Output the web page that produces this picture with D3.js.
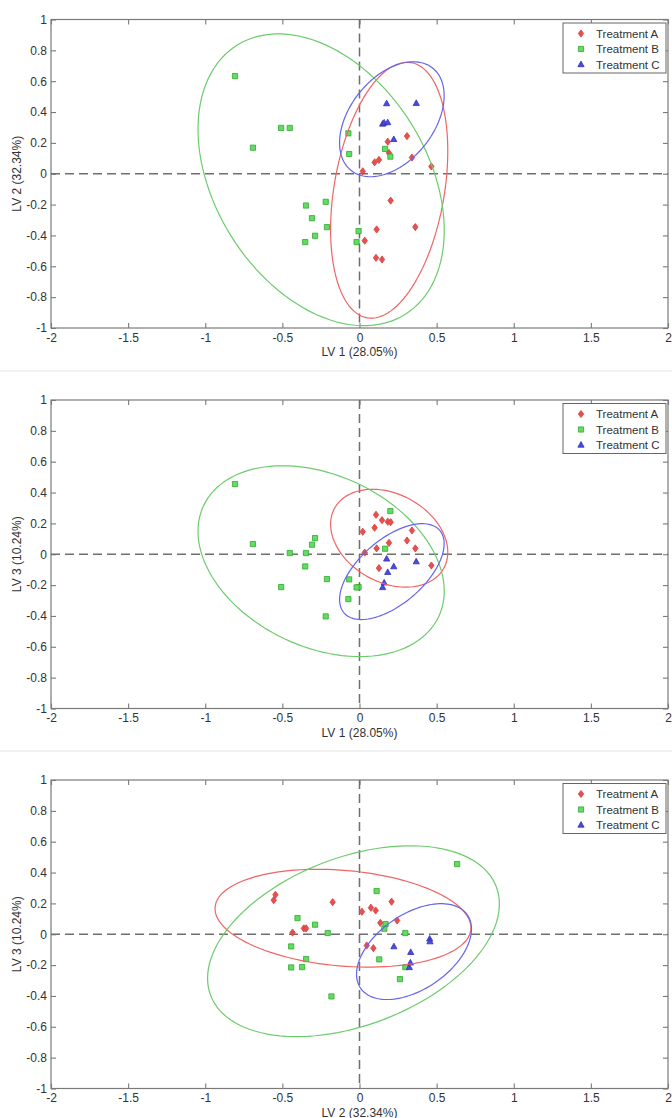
<!DOCTYPE html>
<html>
<head>
<meta charset="utf-8">
<script src="https://cdn.jsdelivr.net/npm/d3@7"></script>
<style>
  body { margin: 0; background: #fff; }
  svg { display: block; font-family: Arial, "Liberation Sans", sans-serif; }
</style>
</head>
<body>
<svg id="chart" width="672" height="1118"></svg>
<script>
// Latent variable scores, one entry per sample
const treatments = ["Treatment A", "Treatment B", "Treatment C"];

const aLV1 = [0.183, 0.308, 0.191, 0.098, 0.126, 0.340, 0.466, 0.021, 0.202, 0.111, 0.362, 0.034, 0.107, 0.146];
const aLV2 = [0.208, 0.244, 0.135, 0.074, 0.090, 0.105, 0.047, 0.016, -0.174, -0.361, -0.346, -0.434, -0.545, -0.556];
const aLV3 = [0.211, 0.089, 0.074, 0.172, -0.090, 0.154, -0.073, 0.146, 0.208, 0.038, 0.038, 0.011, 0.256, 0.221];

const bLV1 = [-0.807, -0.691, -0.508, -0.452, -0.347, -0.352, -0.308, -0.288, -0.219, -0.211, -0.072, -0.067, -0.006, -0.019, 0.166, 0.200];
const bLV2 = [0.633, 0.169, 0.297, 0.297, -0.206, -0.443, -0.288, -0.402, -0.182, -0.346, 0.262, 0.128, -0.372, -0.443, 0.161, 0.111];
const bLV3 = [0.455, 0.066, -0.213, 0.008, 0.008, -0.079, 0.062, 0.105, -0.403, -0.161, -0.291, -0.163, -0.213, -0.215, 0.036, 0.280];

const cLV1 = [0.176, 0.368, 0.150, 0.160, 0.183, 0.222];
const cLV2 = [0.455, 0.457, 0.323, 0.330, 0.332, 0.223];
const cLV3 = [-0.030, -0.048, -0.215, -0.185, -0.117, -0.080];

const axisTitles = ["LV 1 (28.05%)", "LV 2 (32.34%)", "LV 3 (10.24%)"];
const xTicks = [-2, -1.5, -1, -0.5, 0, 0.5, 1, 1.5, 2];
const yTicks = [-1, -0.8, -0.6, -0.4, -0.2, 0, 0.2, 0.4, 0.6, 0.8, 1];

// which score goes on which axis, per panel
const panelPairs = [[0, 1], [0, 2], [1, 2]];

const groups = [
    { name: treatments[0], lv: [aLV1, aLV2, aLV3], fill: "#e85050", stroke: "#d83c3c", line: "#f06464" },
    { name: treatments[1], lv: [bLV1, bLV2, bLV3], fill: "#62dc62", stroke: "#30a830", line: "#6ccc6c" },
    { name: treatments[2], lv: [cLV1, cLV2, cLV3], fill: "#4c4cdc", stroke: "#3030c0", line: "#6464ee" }
];

// marker shapes, matlab-ish
const diamond = {
    draw(ctx) {
        ctx.moveTo(0, -3.6); ctx.lineTo(2.7, 0); ctx.lineTo(0, 3.6); ctx.lineTo(-2.7, 0); ctx.closePath();
    }
};
const square = {
    draw(ctx) { ctx.rect(-2.6, -2.6, 5.2, 5.2); }
};
const triangle = {
    draw(ctx) {
        ctx.moveTo(0, -3.4); ctx.lineTo(3.1, 2.2); ctx.lineTo(-3.1, 2.2); ctx.closePath();
    }
};
const shapes = [diamond, square, triangle];

// 95% Hotelling T2 confidence ellipse of a group
function confEllipse(xs, ys) {
    const n = xs.length;
    const mx = d3.mean(xs), my = d3.mean(ys);
    let sxx = 0, syy = 0, sxy = 0;
    for (let i = 0; i < n; i++) {
        const dx = xs[i] - mx, dy = ys[i] - my;
        sxx += dx * dx; syy += dy * dy; sxy += dx * dy;
    }
    sxx /= n - 1; syy /= n - 1; sxy /= n - 1;
    const fq = (n - 2) / 2 * (Math.pow(0.05, -2 / (n - 2)) - 1);
    const k = Math.sqrt(2 * (n - 1) / (n - 2) * fq);
    const tr = sxx + syy, det = sxx * syy - sxy * sxy;
    const disc = Math.sqrt(Math.max(tr * tr / 4 - det, 0));
    const l1 = tr / 2 + disc, l2 = Math.max(tr / 2 - disc, 0);
    const th = 0.5 * Math.atan2(2 * sxy, sxx - syy);
    return d3.range(120).map(i => {
        const t = i / 120 * 2 * Math.PI;
        const u = k * Math.sqrt(l1) * Math.cos(t);
        const v = k * Math.sqrt(l2) * Math.sin(t);
        return [mx + u * Math.cos(th) - v * Math.sin(th), my + u * Math.sin(th) + v * Math.cos(th)];
    });
}

const svg = d3.select("#chart");
const left = 51, right = 668, plotH = 308.5;
const panelTops = [19.5, 400, 780];

// faint page seams between the stacked figures
[371, 751].forEach(yy => {
    svg.append("line").attr("x1", 0).attr("x2", 672).attr("y1", yy).attr("y2", yy)
        .attr("stroke", "#ececec").attr("stroke-width", 1.5);
});

const x = d3.scaleLinear().domain([-2, 2]).range([left, right]);

panelPairs.forEach(([xi, yi], p) => {
    const top = panelTops[p], bottom = top + plotH;
    const y = d3.scaleLinear().domain([-1, 1]).range([bottom, top]);
    const g = svg.append("g");

    // box + inward ticks on all four sides
    const styleAxis = sel => {
        sel.select(".domain").remove();
        sel.selectAll(".tick line").attr("stroke", "#7a7a7a").attr("stroke-width", 1.1);
        sel.selectAll("text").attr("fill", "#333").attr("font-size", 12)
            .attr("font-family", "Arial, 'Liberation Sans', sans-serif");
    };
    g.append("g").attr("transform", `translate(0,${bottom})`)
        .call(d3.axisBottom(x).tickValues(xTicks).tickSize(-5).tickPadding(5).tickFormat(String))
        .call(styleAxis);
    g.append("g").attr("transform", `translate(0,${top})`)
        .call(d3.axisTop(x).tickValues(xTicks).tickSize(-5).tickFormat(""))
        .call(styleAxis);
    g.append("g").attr("transform", `translate(${left},0)`)
        .call(d3.axisLeft(y).tickValues(yTicks).tickSize(-5).tickPadding(4).tickFormat(String))
        .call(styleAxis);
    g.append("g").attr("transform", `translate(${right},0)`)
        .call(d3.axisRight(y).tickValues(yTicks).tickSize(-5).tickFormat(""))
        .call(styleAxis);

    g.append("rect")
        .attr("x", left).attr("y", top)
        .attr("width", right - left).attr("height", plotH)
        .attr("fill", "none").attr("stroke", "#7a7a7a").attr("stroke-width", 1.2);

    // dashed zero lines
    g.append("line")
        .attr("x1", left).attr("x2", right).attr("y1", y(0)).attr("y2", y(0))
        .attr("stroke", "#6e6e6e").attr("stroke-width", 1.5).attr("stroke-dasharray", "9,5");
    g.append("line")
        .attr("x1", x(0)).attr("x2", x(0)).attr("y1", top).attr("y2", bottom)
        .attr("stroke", "#6e6e6e").attr("stroke-width", 1.5).attr("stroke-dasharray", "9,5");

    // points
    groups.forEach((grp, gi) => {
        const pts = grp.lv[xi].map((v, i) => [v, grp.lv[yi][i]]);
        g.append("g").selectAll("path")
            .data(pts)
            .enter().append("path")
            .attr("transform", d => `translate(${x(d[0])},${y(d[1])})`)
            .attr("d", d3.symbol().type(shapes[gi]))
            .attr("fill", grp.fill)
            .attr("stroke", grp.stroke)
            .attr("stroke-width", 0.8);
    });

    // confidence ellipses
    const line = d3.line().x(d => x(d[0])).y(d => y(d[1])).curve(d3.curveLinearClosed);
    groups.forEach(grp => {
        g.append("path")
            .attr("d", line(confEllipse(grp.lv[xi], grp.lv[yi])))
            .attr("fill", "none")
            .attr("stroke", grp.line)
            .attr("stroke-width", 1.2);
    });

    // axis titles
    g.append("text")
        .attr("x", x(0)).attr("y", bottom + 28)
        .attr("text-anchor", "middle").attr("font-size", 12).attr("fill", "#333")
        .text(axisTitles[xi]);
    g.append("text")
        .attr("transform", `translate(17,${(top + bottom) / 2}) rotate(-90)`)
        .attr("text-anchor", "middle").attr("dy", "0.35em")
        .attr("font-size", 12).attr("fill", "#333")
        .text(axisTitles[yi]);

    // legend
    const lg = g.append("g");
    lg.append("rect")
        .attr("x", 563).attr("y", top + 3.5).attr("width", 103).attr("height", 50)
        .attr("fill", "#fff").attr("stroke", "#666").attr("stroke-width", 1);
    groups.forEach((grp, gi) => {
        const ly = top + 14 + gi * 15.5;
        lg.append("path")
            .attr("transform", `translate(581,${ly})`)
            .attr("d", d3.symbol().type(shapes[gi]))
            .attr("fill", grp.fill).attr("stroke", grp.stroke).attr("stroke-width", 0.8);
        lg.append("text")
            .attr("x", 596).attr("y", ly).attr("dy", "0.35em")
            .attr("font-size", 11.5).attr("fill", "#333")
            .text(grp.name);
    });
});
</script>
</body>
</html>
